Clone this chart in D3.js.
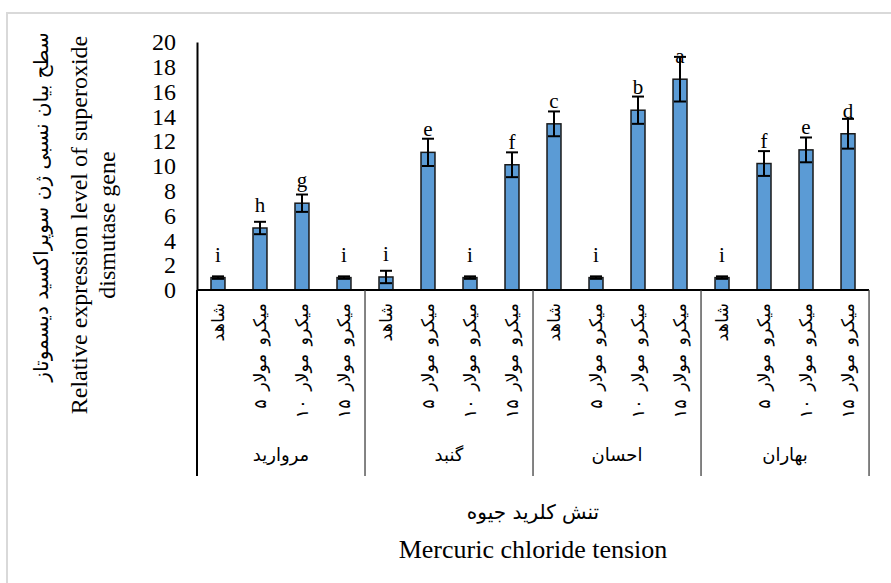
<!DOCTYPE html>
<html>
<head>
<meta charset="utf-8">
<script src="https://cdn.jsdelivr.net/npm/d3@7/dist/d3.min.js"></script>
<style>
  body { margin: 0; background: #fff; }
  .serif { font-family: 'Liberation Serif', 'Times New Roman', serif; }
  .fa { font-family: 'DejaVu Sans', sans-serif; }
</style>
</head>
<body>
<svg id="chart" width="891" height="583"></svg>
<script>
// cultivars (outer x level) and treatments (inner x level)
const cultivars = ['مروارید', 'گنبد', 'احسان', 'بهاران'];
const treatments = ['شاهد', 'میکرو مولار ۵', 'میکرو مولار ۱۰', 'میکرو مولار ۱۵'];

// one value per bar, in drawing order (4 bars per cultivar)
const barLabels = [
    'شاهد', 'میکرو مولار ۵', 'میکرو مولار ۱۰', 'میکرو مولار ۱۵',
    'شاهد', 'میکرو مولار ۵', 'میکرو مولار ۱۰', 'میکرو مولار ۱۵',
    'شاهد', 'میکرو مولار ۵', 'میکرو مولار ۱۰', 'میکرو مولار ۱۵',
    'شاهد', 'میکرو مولار ۵', 'میکرو مولار ۱۰', 'میکرو مولار ۱۵'
];
const expression = [1.0, 5.0, 7.0, 1.0, 1.05, 11.1, 1.0, 10.1, 13.4, 1.0, 14.5, 17.0, 1.0, 10.2, 11.3, 12.6];
const errors = [0.1, 0.5, 0.7, 0.1, 0.5, 1.1, 0.1, 1.0, 1.0, 0.1, 1.1, 1.8, 0.1, 1.0, 1.0, 1.2];
const letters = ['i', 'h', 'g', 'i', 'i', 'e', 'i', 'f', 'c', 'i', 'b', 'a', 'i', 'f', 'e', 'd'];

const yTicks = [0, 2, 4, 6, 8, 10, 12, 14, 16, 18, 20];

const svg = d3.select('#chart');

// outer chart frame (only top & left visible)
svg.append('rect')
    .attr('x', 7).attr('y', 13)
    .attr('width', 950).attr('height', 650)
    .attr('fill', 'none')
    .attr('stroke', '#d9d9d9')
    .attr('stroke-width', 2);

const x = d3.scaleBand()
    .domain(d3.range(expression.length))
    .range([197, 869])
    .paddingInner(0.667)
    .paddingOuter(0.333);
const step = x.step();

const y = d3.scaleLinear().domain([0, 20]).range([290, 42]);

// y axis
const yAxis = svg.append('g')
    .attr('transform', 'translate(197,0)')
    .call(d3.axisLeft(y).tickValues(yTicks).tickSize(0).tickSizeOuter(0).tickPadding(21));
yAxis.select('.domain').attr('stroke', '#000').attr('stroke-width', 2);
yAxis.selectAll('text')
    .attr('class', 'serif')
    .attr('font-size', 24)
    .attr('fill', '#000');

// bars
svg.append('g').selectAll('rect')
    .data(expression)
    .join('rect')
    .attr('x', (d, i) => x(i))
    .attr('width', x.bandwidth())
    .attr('y', d => y(d))
    .attr('height', d => y(0) - y(d))
    .attr('fill', '#5b9bd5')
    .attr('stroke', '#1a1a1a')
    .attr('stroke-width', 1.5);

// error bars
const eb = svg.append('g').attr('stroke', '#000').attr('stroke-width', 2);
expression.forEach(function(v, i) {
    const cx = x(i) + x.bandwidth() / 2;
    const hi = y(v + errors[i]), lo = y(v - errors[i]);
    eb.append('line').attr('x1', cx).attr('x2', cx).attr('y1', hi).attr('y2', lo);
    eb.append('line').attr('x1', cx - 6).attr('x2', cx + 6).attr('y1', hi).attr('y2', hi);
    eb.append('line').attr('x1', cx - 6).attr('x2', cx + 6).attr('y1', lo).attr('y2', lo);
});

// significance letters
svg.append('g').selectAll('text')
    .data(letters)
    .join('text')
    .attr('class', 'serif')
    .attr('x', (d, i) => x(i) + x.bandwidth() / 2)
    .attr('y', (d, i) => y(expression[i]) - 16)
    .attr('text-anchor', 'middle')
    .attr('font-size', 21)
    .text(d => d);

// x axis line
svg.append('line')
    .attr('x1', x.range()[0]).attr('x2', x.range()[1])
    .attr('y1', y(0)).attr('y2', y(0))
    .attr('stroke', '#000').attr('stroke-width', 2);

// group separators
svg.append('g').selectAll('line')
    .data(d3.range(cultivars.length + 1))
    .join('line')
    .attr('x1', k => x.range()[0] + k * 4 * step)
    .attr('x2', k => x.range()[0] + k * 4 * step)
    .attr('y1', y(0)).attr('y2', 476)
    .attr('stroke', k => k === 0 ? '#000' : '#404040')
    .attr('stroke-width', k => k === 0 ? 2 : 1.3);

// treatment labels (rotated)
svg.append('g').selectAll('text')
    .data(barLabels)
    .join('text')
    .attr('class', 'fa')
    .attr('transform', (d, i) => `translate(${x(i) + x.bandwidth() / 2},303) rotate(-90)`)
    .attr('text-anchor', 'end')
    .attr('dominant-baseline', 'central')
    .attr('font-size', 17.5)
    .attr('word-spacing', 3)
    .text(d => d);

// cultivar labels
svg.append('g').selectAll('text')
    .data(cultivars)
    .join('text')
    .attr('class', 'fa')
    .attr('x', (d, k) => x.range()[0] + (k + 0.5) * 4 * step)
    .attr('y', 461)
    .attr('text-anchor', 'middle')
    .attr('font-size', 18)
    .text(d => d);

// y title
svg.append('text').attr('class', 'fa')
    .attr('transform', 'translate(48,207) rotate(-90)')
    .attr('text-anchor', 'middle').attr('font-size', 20)
    .text('سطح بیان نسبی ژن سوپراکسید دیسموتاز');
svg.append('text').attr('class', 'serif')
    .attr('transform', 'translate(87,225) rotate(-90)')
    .attr('text-anchor', 'middle').attr('font-size', 24)
    .text('Relative expression level of superoxide');
svg.append('text').attr('class', 'serif')
    .attr('transform', 'translate(115,225) rotate(-90)')
    .attr('text-anchor', 'middle').attr('font-size', 24)
    .text('dismutase gene');

// x title
svg.append('text').attr('class', 'fa')
    .attr('x', 533).attr('y', 519)
    .attr('text-anchor', 'middle').attr('font-size', 20)
    .text('تنش کلرید جیوه');
svg.append('text').attr('class', 'serif')
    .attr('x', 533).attr('y', 558)
    .attr('text-anchor', 'middle').attr('font-size', 26)
    .text('Mercuric chloride tension');
</script>
</body>
</html>
